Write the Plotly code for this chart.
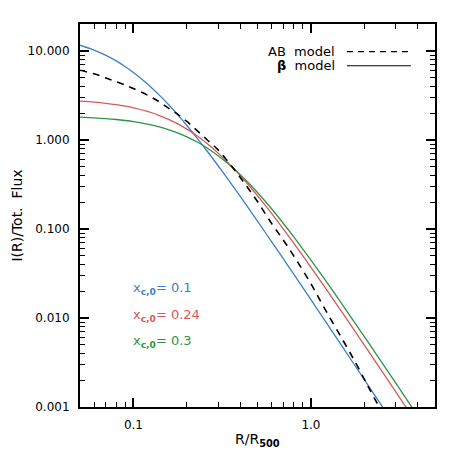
import plotly.graph_objects as go

# radius in units of R500
r = [0.05, 0.06, 0.07, 0.08, 0.09, 0.10, 0.12, 0.14, 0.16, 0.18, 0.20, 0.23, 0.26, 0.30,
     0.35, 0.40, 0.45, 0.50, 0.60, 0.70, 0.80, 1.0, 1.2, 1.5, 1.8, 2.1, 2.5, 3.0, 3.5, 4.0]

# beta model profiles, I(R)/Tot. Flux
beta_01 = [11.66, 10.28, 8.96, 7.76, 6.69, 5.76, 4.28, 3.20, 2.43, 1.87, 1.458, 1.033, 0.754, 0.515,
           0.338, 0.2326, 0.1664, 0.1230, 0.0724, 0.0461, 0.0311, 0.01606, 0.00934, 0.00480, 0.00278,
           0.001754, 0.001041, 0.000603, 0.00038, 0.00025]
beta_024 = [2.749, 2.675, 2.592, 2.502, 2.405, 2.305, 2.097, 1.888, 1.688, 1.500, 1.328, 1.103, 0.914, 0.714,
            0.530, 0.399, 0.305, 0.2374, 0.1501, 0.1000, 0.0695, 0.0372, 0.0221, 0.01155, 0.00676,
            0.00429, 0.002557, 0.001486, 0.000938, 0.000629]
beta_03 = [1.814, 1.782, 1.746, 1.705, 1.661, 1.614, 1.513, 1.406, 1.298, 1.192, 1.089, 0.945, 0.816, 0.668,
           0.521, 0.408, 0.3226, 0.2574, 0.1690, 0.1155, 0.0818, 0.0448, 0.0270, 0.01426, 0.00840,
           0.00535, 0.00320, 0.001862, 0.001177, 0.000791]

# AB model profile
r_ab = [0.05, 0.06, 0.07, 0.08, 0.09, 0.10, 0.12, 0.14, 0.16, 0.18, 0.20, 0.23, 0.26, 0.30,
        0.35, 0.40, 0.45, 0.50, 0.60, 0.70, 0.80, 1.0, 1.2, 1.5, 1.8, 2.1, 2.4]
ab = [6.10, 5.56, 4.99, 4.53, 4.14, 3.80, 3.20, 2.69, 2.24, 1.91, 1.62, 1.26, 1.01, 0.776,
      0.537, 0.380, 0.275, 0.204, 0.116, 0.075, 0.050, 0.0243, 0.0126, 0.00582, 0.00305, 0.00170, 0.00104]

labels = ['0.1', '0.24', '0.3']
colors = ['#3a7fcf', '#d9585a', '#2e9444']

ytick_vals = [0.001, 0.01, 0.1, 1, 10]
ytick_text = ['0.001', '0.010', '0.100', '1.000', '10.000']
xtick_vals = [0.1, 1.0]
xtick_text = ['0.1', '1.0']

fnt = 'DejaVu Sans, sans-serif'

fig = go.Figure()
for ys, c in zip([beta_01, beta_024, beta_03], colors):
    fig.add_trace(go.Scatter(x=r, y=ys, mode='lines', line=dict(color=c, width=1.3, shape='spline'),
                             showlegend=False))
fig.add_trace(go.Scatter(x=r_ab, y=ab, mode='lines', line=dict(color='black', width=1.6, dash='7px,6px', shape='spline'),
                         showlegend=False))

xminor = [0.06, 0.07, 0.08, 0.09, 0.2, 0.3, 0.4, 0.5, 0.6, 0.7, 0.8, 0.9, 2, 3, 4, 5]
yminor = [m * 10 ** e for e in range(-3, 2) for m in range(2, 10)]

axis_common = dict(type='log', showgrid=False, zeroline=False, showline=True, linecolor='black', linewidth=2,
                   ticks='inside', ticklen=9, tickwidth=1.5, tickcolor='black', mirror='allticks',
                   automargin=False, ticklabelstandoff=6,
                   tickfont=dict(family=fnt, size=12, color='black'))

fig.update_xaxes(range=[-1.301, 0.699], tickmode='array', tickvals=xtick_vals, ticktext=xtick_text,
                 minor=dict(tickmode='array', tickvals=xminor, ticks='inside', ticklen=5, tickcolor='black', tickwidth=1),
                 **axis_common)
fig.update_yaxes(range=[-3, 1.305], tickmode='array', tickvals=ytick_vals, ticktext=ytick_text,
                 minor=dict(tickmode='array', tickvals=yminor, ticks='inside', ticklen=5, tickcolor='black', tickwidth=1),
                 **axis_common)

# axis titles
fig.add_annotation(xref='paper', yref='paper', x=-0.180, y=0.5, xanchor='center', yanchor='middle',
                   text='I(R)/Tot.  Flux', textangle=-90, showarrow=False,
                   font=dict(family=fnt, size=14, color='black'))
fig.add_annotation(xref='paper', yref='paper', x=0.5, y=-0.087, xanchor='center', yanchor='middle',
                   text='R/R<sub><b>500</b></sub>', showarrow=False,
                   font=dict(family=fnt, size=14, color='black'))

# legend drawn by hand: text left, line sample right
fig.add_annotation(xref='paper', yref='paper', x=0.724, y=0.928, xanchor='right', yanchor='middle',
                   text='AB  model', showarrow=False, font=dict(family=fnt, size=13, color='black'))
fig.add_annotation(xref='paper', yref='paper', x=0.724, y=0.891, xanchor='right', yanchor='middle',
                   text='<b>β</b>  model', showarrow=False, font=dict(family=fnt, size=13, color='black'))
fig.add_shape(type='line', xref='paper', yref='paper', x0=0.752, x1=0.932, y0=0.928, y1=0.928,
              line=dict(color='black', width=1.2, dash='6px,5px'))
fig.add_shape(type='line', xref='paper', yref='paper', x0=0.752, x1=0.932, y0=0.891, y1=0.891,
              line=dict(color='black', width=1.2))

for lab, c, yy in zip(labels, colors, [0.310, 0.240, 0.172]):
    fig.add_annotation(xref='paper', yref='paper', x=0.145, y=yy, xanchor='left', yanchor='middle',
                       text='x<sub><b>c,0</b></sub>= ' + lab, showarrow=False,
                       font=dict(family=fnt, size=13, color=c))

# page body adds an 8px offset, so margins are shifted to keep the plot box in place
fig.update_layout(width=458, height=458, margin=dict(l=72, r=31, t=16, b=59),
                  plot_bgcolor='white', paper_bgcolor='white')

fig.write_html("out.html")
